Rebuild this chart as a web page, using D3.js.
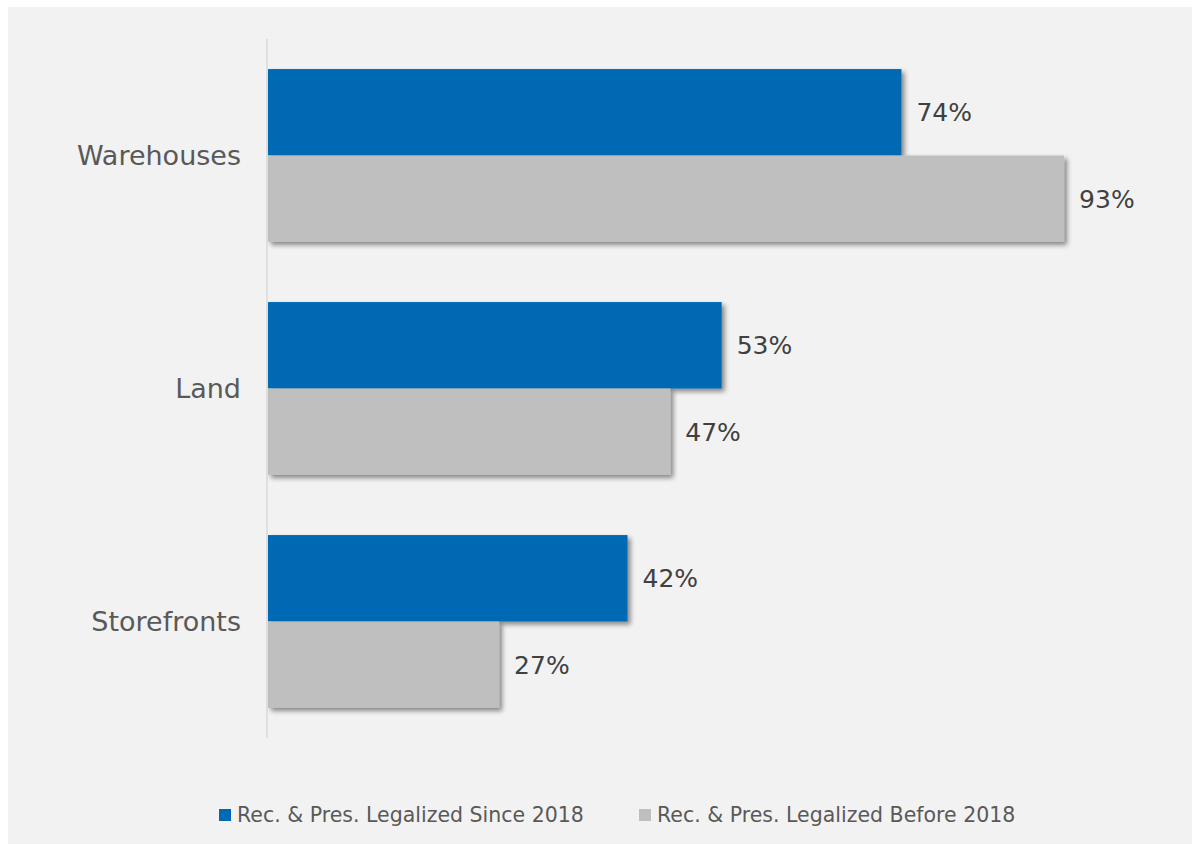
<!DOCTYPE html>
<html><head><meta charset="utf-8">
<script src="https://cdn.jsdelivr.net/npm/d3@7"></script>
<style>html,body{margin:0;padding:0;background:#fff;}svg{display:block;}</style>
</head><body><svg id="chart" width="1192" height="844"></svg>
<script>
const categories = ["Warehouses", "Land", "Storefronts"];
const seriesNames = ["Rec. & Pres. Legalized Since 2018", "Rec. & Pres. Legalized Before 2018"];
const since2018 = [74, 53, 42];
const before2018 = [93, 47, 27];
const colors = ["#0069B4", "#BFBFBF"];

const svg = d3.select("#chart");
const W = 1192, H = 844;
svg.append("rect").attr("x", 8).attr("y", 7).attr("width", W - 8).attr("height", H - 7).attr("fill", "#F2F2F2");

const defs = svg.append("defs");
const f = defs.append("filter").attr("id", "sh").attr("x", "-10%").attr("y", "-10%").attr("width", "130%").attr("height", "140%");
f.append("feGaussianBlur").attr("in", "SourceAlpha").attr("stdDeviation", 2.5).attr("result", "b");
f.append("feOffset").attr("in", "b").attr("dx", 3).attr("dy", 3).attr("result", "o");
f.append("feComponentTransfer").attr("in", "o").attr("result", "o2").append("feFuncA").attr("type", "linear").attr("slope", 0.45);
const m = f.append("feMerge");
m.append("feMergeNode").attr("in", "o2");
m.append("feMergeNode").attr("in", "SourceGraphic");

const x0 = 268, y0 = 39, y1 = 738;
const x = d3.scaleLinear().domain([0, 100]).range([x0, x0 + 856]);
const y = d3.scaleBand().domain(categories).range([y0, y1]).paddingInner(0.258).paddingOuter(0.129);
const ys = d3.scaleBand().domain([0, 1]).range([0, y.bandwidth()]);

const data = categories.map((c, i) => ({cat: c, vals: [since2018[i], before2018[i]]}));
const font = "'DejaVu Sans', sans-serif";

const g = svg.append("g");
data.forEach(d => {
  d.vals.forEach((v, s) => {
    g.append("rect")
      .attr("x", x(0)).attr("y", y(d.cat) + ys(s))
      .attr("width", x(v) - x(0)).attr("height", ys.bandwidth())
      .attr("fill", colors[s]).attr("filter", "url(#sh)");
  });
});
data.forEach(d => {
  d.vals.forEach((v, s) => {
    g.append("text")
      .attr("x", x(v) + 15).attr("y", y(d.cat) + ys(s) + ys.bandwidth() / 2)
      .attr("dy", "0.36em").attr("font-family", font).attr("font-size", 25)
      .attr("fill", "#404040").text(v + "%");
  });
});

// axis
const axis = d3.axisLeft(y).tickSize(0).tickPadding(26);
const ag = svg.append("g").attr("transform", `translate(${x0 - 1},0)`).call(axis);
ag.select(".domain").attr("stroke", "#D9D9D9").attr("stroke-width", 1.5).attr("d", `M0,${y0}V${y1}`);
ag.selectAll("text").attr("font-family", font).attr("font-size", 27).attr("fill", "#595959").attr("dy", "0.36em");

// legend
const leg = [{x: 219, name: seriesNames[0], c: colors[0]}, {x: 639, name: seriesNames[1], c: colors[1]}];
leg.forEach(l => {
  svg.append("rect").attr("x", l.x).attr("y", 809).attr("width", 12).attr("height", 12).attr("fill", l.c);
  svg.append("text").attr("x", l.x + 18).attr("y", 815).attr("dy", "0.36em")
    .attr("font-family", font).attr("font-size", 20.5).attr("fill", "#595959").text(l.name);
});
</script></body></html>
